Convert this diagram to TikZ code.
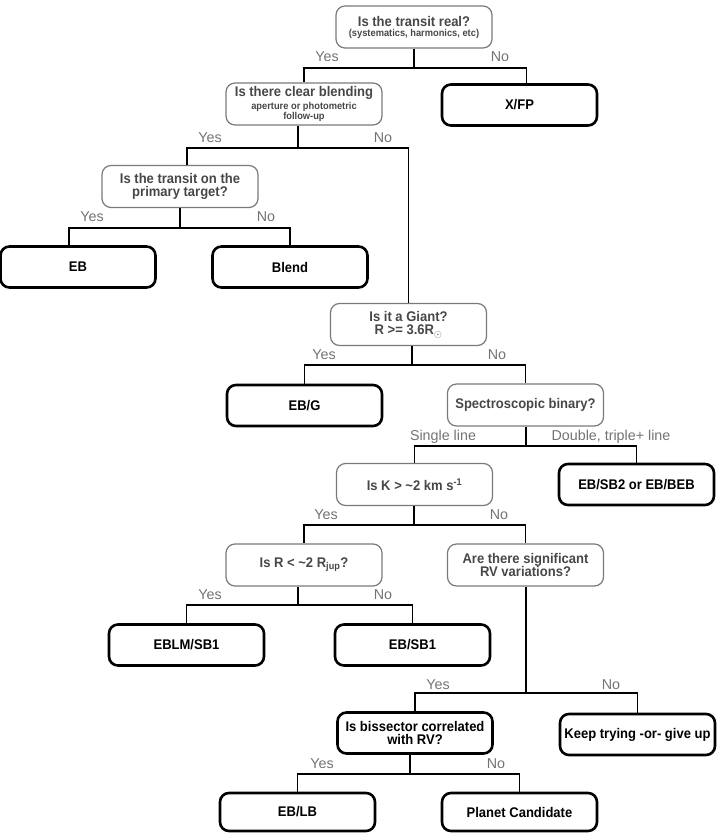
\documentclass[tikz,border=0pt]{standalone}
\usepackage{fontspec}
\setmainfont{Liberation Sans}
\newfontfamily\boxfont{Liberation Sans}[FakeStretch=0.93]
\usepackage{tikz}

\begin{document}
\begin{tikzpicture}[x=1pt,y=-1pt,line width=1.3pt,
  ask/.style={draw=black!52,line width=1.2pt,rounded corners=9pt,minimum width=156pt,minimum height=42pt,inner sep=1pt,align=center,text=black!72,font=\boxfont\fontsize{14}{13.7}\selectfont\bfseries},
  leaf/.style={draw,line width=2.6pt,rounded corners=9pt,minimum width=155pt,minimum height=41pt,inner sep=1pt,align=center,font=\boxfont\fontsize{14}{13.7}\selectfont\bfseries},
  lbl/.style={text=black!55,inner sep=0pt,font=\fontsize{14.3}{16}\selectfont}]
  \useasboundingbox (0,0) rectangle (720,833);
  \node[ask] (real) at (414,27) {Is the transit real?\\[-3.7pt]{\fontsize{10}{11}\selectfont (systematics, harmonics, etc)}};
  \node[leaf] (xfp) at (519.5,105) {X/FP};
  \node[ask] (blend) at (304,104) {Is there clear blending\\[-0.5pt]{\fontsize{10}{11}\selectfont aperture or photometric}\\[-3.2pt]{\fontsize{10}{11}\selectfont follow-up}};
  \node[ask] (prim) at (180,186.5) {Is the transit on the\\primary target?};
  \node[leaf] (eb) at (78,267) {EB};
  \node[leaf] (blnd) at (290,267) {Blend};
  \node[ask] (giant) at (408.5,324.5) {Is it a Giant?\\R >= 3.6R$_\odot$};
  \node[leaf] (ebg) at (304.5,405.5) {EB/G};
  \node[ask] (spec) at (525.5,405) {Spectroscopic binary?};
  \node[ask] (kk) at (414.5,484.5) {Is K > \textasciitilde2 km s\textsuperscript{-1}};
  \node[leaf] (sb2) at (636.5,484.5) {EB/SB2 or EB/BEB};
  \node[ask] (rr) at (304,565) {Is R < \textasciitilde2 R\textsubscript{jup}?};
  \node[ask] (rv) at (525.5,565) {Are there significant\\RV variations?};
  \node[leaf] (eblm) at (186.5,645) {EBLM/SB1};
  \node[leaf] (ebsb) at (412.5,645) {EB/SB1};
  \node[leaf] (bis) at (415,733) {Is bissector correlated\\with RV?};
  \node[leaf] (keep) at (637.5,734.5) {Keep trying -or- give up};
  \node[leaf,minimum height=38pt] (eblb) at (297.5,812) {EB/LB};
  \node[leaf,minimum height=38pt] (planet) at (519.5,812) {Planet Candidate};
  \coordinate (j1) at (414,68);
  \coordinate (j2) at (298,148);
  \coordinate (j3) at (180,228);
  \coordinate (j4) at (412,365);
  \coordinate (j5) at (526,446);
  \coordinate (j6) at (414,525);
  \coordinate (j7) at (298,605);
  \coordinate (j8) at (526,693);
  \coordinate (j9) at (410,774);
  \draw (j1 |- real.south) -- (j1) -| (blend.north) (j1) -| ([xshift=7pt]xfp.north);
  \draw (j2 |- blend.south) -- (j2) -| ([xshift=7pt]prim.north) (j2) -| (giant.north);
  \draw (j3 |- prim.south) -- (j3) -| ([xshift=-9pt]eb.north) (j3) -| (blnd.north);
  \draw (j4 |- giant.south) -- (j4) -| (ebg.north) (j4) -| (spec.north);
  \draw (j5 |- spec.south) -- (j5) -| (kk.north) (j5) -| (sb2.north);
  \draw (j6 |- kk.south) -- (j6) -| (rr.north) (j6) -| (rv.north);
  \draw (j7 |- rr.south) -- (j7) -| (eblm.north) (j7) -| (ebsb.north);
  \draw (j8 |- rv.south) -- (j8) -| (bis.north) (j8) -| (keep.north);
  \draw (j9 |- bis.south) -- (j9) -| (eblb.north) (j9) -| (planet.north);
  \node[lbl] (y1) at (327,57) {Yes};
  \node[lbl] (n1) at (500,57) {No};
  \node[lbl] (y2) at (210,138) {Yes};
  \node[lbl] (n2) at (383,138) {No};
  \node[lbl] (y3) at (92,217) {Yes};
  \node[lbl] (n3) at (266,217) {No};
  \node[lbl] (y4) at (324,355) {Yes};
  \node[lbl] (n4) at (497,355) {No};
  \node[lbl] (y5) at (443,437) {Single line};
  \node[lbl] (n5) at (611,437) {Double, triple+ line};
  \node[lbl] (y6) at (326,515) {Yes};
  \node[lbl] (n6) at (499,515) {No};
  \node[lbl] (y7) at (210,595) {Yes};
  \node[lbl] (n7) at (383,595) {No};
  \node[lbl] (y8) at (438,685) {Yes};
  \node[lbl] (n8) at (611,685) {No};
  \node[lbl] (y9) at (322,764) {Yes};
  \node[lbl] (n9) at (496,764) {No};
\end{tikzpicture}
\end{document}
